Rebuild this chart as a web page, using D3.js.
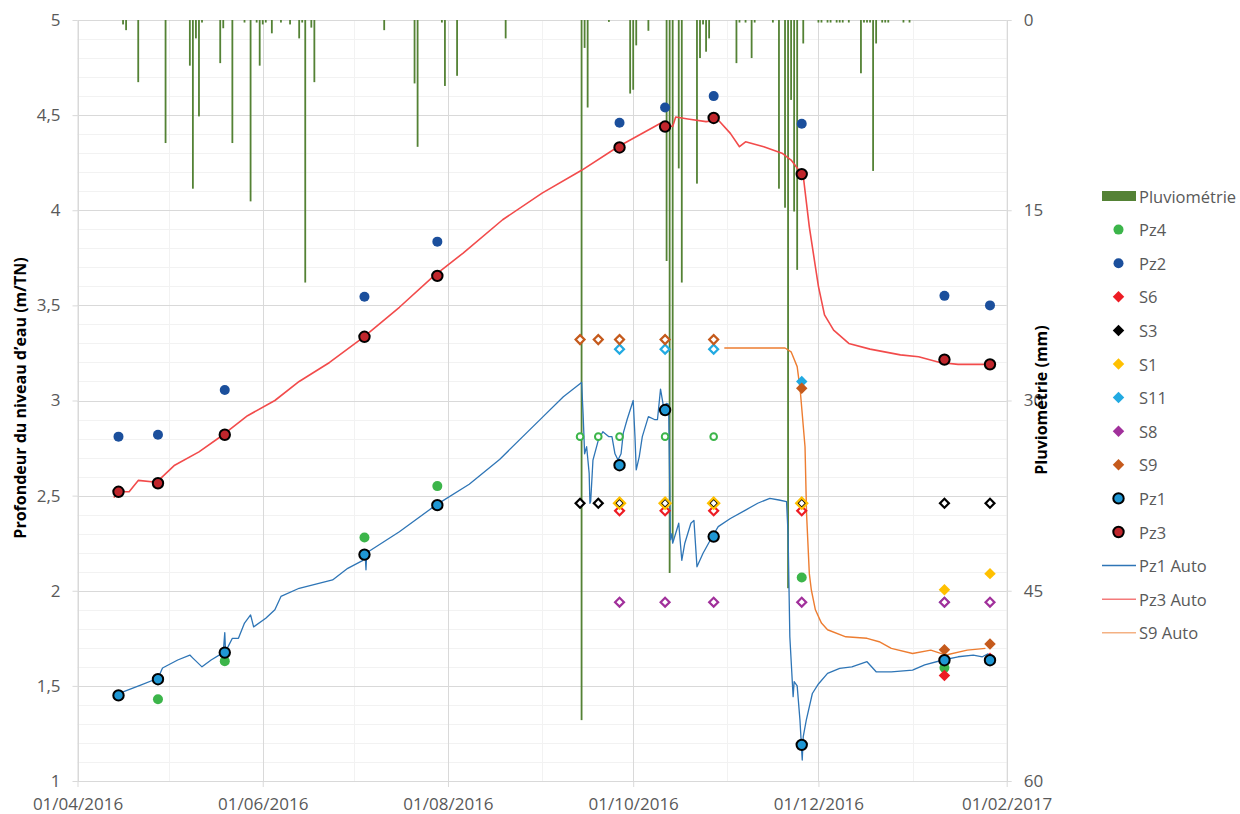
<!DOCTYPE html>
<html>
<head>
<meta charset="utf-8">
<script src="https://cdn.jsdelivr.net/npm/d3@7"></script>
<style>
body { margin: 0; background: #fff; }
svg text { font-family: "Open Sans", sans-serif; }
</style>
</head>
<body>
<div id="chart"></div>
<script>
// --- pluviometrie journaliere (mm) ---
const pluieDates = ["2016-04-16","2016-04-17","2016-04-21","2016-04-30","2016-05-08","2016-05-09","2016-05-10","2016-05-11","2016-05-12",
  "2016-05-18","2016-05-19","2016-05-22","2016-05-26","2016-05-28","2016-05-30","2016-05-31","2016-06-01","2016-06-02","2016-06-04",
  "2016-06-07","2016-06-10","2016-06-13","2016-06-14","2016-06-15","2016-06-17","2016-06-18","2016-07-11","2016-07-21","2016-07-22",
  "2016-07-30","2016-07-31","2016-08-04","2016-08-20","2016-09-14","2016-09-15","2016-09-16","2016-09-23","2016-09-30","2016-10-01",
  "2016-10-02","2016-10-06","2016-10-12","2016-10-13","2016-10-14","2016-10-16","2016-10-17","2016-10-22","2016-10-23","2016-10-24",
  "2016-10-25","2016-10-26","2016-11-04","2016-11-05","2016-11-07","2016-11-09","2016-11-10","2016-11-16","2016-11-18","2016-11-20",
  "2016-11-21","2016-11-22","2016-11-23","2016-11-24","2016-11-26","2016-12-01","2016-12-02","2016-12-04","2016-12-05","2016-12-07",
  "2016-12-08","2016-12-09","2016-12-11","2016-12-15","2016-12-16","2016-12-17","2016-12-18","2016-12-19","2016-12-20","2016-12-22",
  "2016-12-23","2016-12-24","2016-12-29","2016-12-31"];
const pluieMm = [0.35,0.8,4.9,9.7,3.6,13.3,1.45,7.6,0.2,
  3.4,0.65,9.7,0.2,14.3,0.2,3.6,0.35,0.2,1.05,
  0.2,0.35,1.45,0.2,20.7,0.6,4.9,0.8,5.0,10.0,
  0.2,5.2,4.4,1.45,55.2,2.2,6.9,0.15,5.8,5.5,
  2.0,0.85,19,43.6,41,11.7,20.7,12.9,3.0,0.35,
  2.5,1.45,3.4,0.2,0.2,3.0,0.2,0.2,13.3,14.8,
  44.8,6.3,15.1,19.7,1.85,0.2,0.2,0.2,0.2,0.2,
  0.2,0.2,0.2,4.2,0.2,0.2,0.2,11.9,1.85,0.2,
  0.2,0.2,0.2,0.2];

// --- campagnes de mesures manuelles (m/TN) ; "sec" = ouvrage a sec ---
const campagnes = ["2016-04-14","2016-04-27","2016-05-19","2016-07-04","2016-07-28","2016-09-13","2016-09-19",
  "2016-09-26","2016-10-11","2016-10-27","2016-11-25","2017-01-11","2017-01-26"];
const pz4 = [null,1.43,1.63,2.28,2.55,"sec","sec","sec","sec","sec",2.07,1.595,null];
const pz2 = [2.81,2.82,3.055,3.545,3.835,null,null,4.46,4.54,4.60,4.455,3.55,3.50];
const s6  = [null,null,null,null,null,null,null,"sec","sec","sec","sec",1.555,1.645];
const s3  = [null,null,null,null,null,"sec","sec","sec","sec","sec","sec","sec","sec"];
const s1  = [null,null,null,null,null,null,null,"sec","sec","sec","sec",2.005,2.09];
const s11 = [null,null,null,null,null,null,null,"sec","sec","sec",3.10,1.94,null];
const s8  = [null,null,null,null,null,null,null,"sec","sec","sec","sec","sec","sec"];
const s9  = [null,null,null,null,null,"sec","sec","sec","sec","sec",3.065,1.69,1.72];
const pz1 = [1.45,1.535,1.675,2.19,2.45,null,null,2.66,2.95,2.285,1.19,1.635,1.635];
const pz3 = [2.52,2.565,2.82,3.335,3.655,null,null,4.33,4.44,4.485,4.19,3.215,3.19];
// profondeur du fond des ouvrages (valeur tracee quand sec)
const fondPz4 = 2.81, fondS6 = 2.42, fondS3 = 2.46, fondS1 = 2.46, fondS11 = 3.27, fondS8 = 1.94, fondS9 = 3.32;

// --- enregistrements automatiques ---
const pz1AutoDates = ["2016-04-14T16:00","2016-04-16","2016-04-22","2016-04-27T12:00","2016-04-29","2016-05-04","2016-05-08","2016-05-09",
  "2016-05-12","2016-05-15","2016-05-19","2016-05-19T12:00","2016-05-19T18:00","2016-05-22","2016-05-24","2016-05-26","2016-05-28",
  "2016-05-29","2016-06-02","2016-06-05","2016-06-07","2016-06-13","2016-06-24","2016-06-29","2016-07-04","2016-07-04T18:00",
  "2016-07-05","2016-07-05T06:00","2016-07-16","2016-07-28","2016-08-08","2016-08-18","2016-09-01","2016-09-08","2016-09-14",
  "2016-09-14T12:00","2016-09-15","2016-09-15T16:00","2016-09-16T12:00","2016-09-16T18:00","2016-09-17","2016-09-17T18:00",
  "2016-09-19T12:00","2016-09-21","2016-09-23","2016-09-24","2016-09-25","2016-09-26","2016-09-27","2016-09-27T18:00","2016-09-29",
  "2016-10-01","2016-10-01T14:00","2016-10-02","2016-10-03","2016-10-04","2016-10-06","2016-10-08","2016-10-09","2016-10-10",
  "2016-10-11","2016-10-12","2016-10-12T16:00","2016-10-13T06:00","2016-10-13T18:00","2016-10-14","2016-10-16","2016-10-17",
  "2016-10-18","2016-10-20","2016-10-21","2016-10-22","2016-10-24","2016-10-27","2016-10-29","2016-11-02","2016-11-07",
  "2016-11-11","2016-11-15","2016-11-18","2016-11-20T12:00","2016-11-21","2016-11-21T14:00","2016-11-22T16:00","2016-11-23",
  "2016-11-24","2016-11-24T22:00","2016-11-25T16:00","2016-11-26","2016-11-27","2016-11-29","2016-12-01","2016-12-04","2016-12-08",
  "2016-12-12","2016-12-17","2016-12-20","2016-12-25","2017-01-01","2017-01-05","2017-01-11","2017-01-16","2017-01-21","2017-01-24",
  "2017-01-26"];
const pz1AutoVals = [1.45,1.469,1.505,1.54,1.594,1.636,1.662,1.646,
  1.60,1.636,1.675,1.78,1.68,1.75,1.75,1.83,1.873,
  1.81,1.855,1.90,1.97,2.013,2.057,2.118,2.16,2.19,
  2.11,2.20,2.31,2.45,2.56,2.69,2.91,3.02,3.095,
  2.93,2.72,2.757,2.617,2.46,2.47,2.687,
  2.79,2.836,2.81,2.81,2.72,2.687,2.72,2.83,2.90,
  3.00,2.81,2.635,2.705,2.81,2.915,2.90,2.90,3.06,
  2.967,2.985,2.98,2.267,2.30,2.25,2.355,2.16,
  2.25,2.355,2.37,2.126,2.197,2.284,2.337,2.38,2.424,
  2.46,2.486,2.477,2.468,2.30,1.758,1.443,1.522,
  1.50,1.32,1.11,1.233,1.32,1.46,1.51,1.566,1.592,
  1.60,1.627,1.574,1.574,1.583,1.61,1.636,1.653,1.662,1.653,
  1.67];

const pz3AutoDates = ["2016-04-13","2016-04-14","2016-04-18","2016-04-21","2016-04-27","2016-05-03","2016-05-11","2016-05-19",
  "2016-05-27","2016-06-05","2016-06-13","2016-06-23","2016-07-04","2016-07-16","2016-07-27","2016-08-06","2016-08-19",
  "2016-09-01","2016-09-14","2016-09-26","2016-10-10","2016-10-14","2016-10-15","2016-10-19","2016-10-25","2016-10-29",
  "2016-11-02","2016-11-05","2016-11-07","2016-11-13","2016-11-19","2016-11-22","2016-11-26","2016-11-28","2016-11-30",
  "2016-12-01","2016-12-03","2016-12-06","2016-12-11","2016-12-18","2016-12-28","2017-01-03","2017-01-10","2017-01-16",
  "2017-01-27"];
const pz3AutoVals = [2.49,2.52,2.52,2.58,2.57,2.66,2.73,2.82,
  2.92,3.00,3.10,3.20,3.33,3.49,3.65,3.775,3.95,
  4.09,4.21,4.334,4.457,4.44,4.49,4.48,4.466,4.474,
  4.404,4.334,4.36,4.334,4.30,4.264,4.18,3.913,3.703,
  3.60,3.45,3.37,3.30,3.27,3.24,3.23,3.20,3.19,
  3.19];

const s9AutoDates = ["2016-10-31","2016-11-20","2016-11-22","2016-11-24","2016-11-25","2016-11-26T14:00","2016-11-27T02:00",
  "2016-11-28","2016-11-28T16:00","2016-11-30","2016-12-02","2016-12-04","2016-12-10","2016-12-17","2016-12-21","2016-12-25",
  "2017-01-01","2017-01-07","2017-01-12","2017-01-19","2017-01-25"];
const s9AutoVals = [3.276,3.276,3.256,3.178,3.055,2.757,2.407,
  2.09,2.004,1.90,1.83,1.795,1.758,1.75,1.732,1.697,
  1.67,1.688,1.662,1.688,1.697];

const yTicks = [1, 1.5, 2, 2.5, 3, 3.5, 4, 4.5, 5];
const y2Ticks = [0, 15, 30, 45, 60];

// ---------------------------------------------------------------
var W = 1240, H = 814;
var pL = 77.5, pR = 1006.7, pT = 20, pB = 781;
var parse = d3.isoParse;
var t0 = new Date(2016, 3, 1), t1 = new Date(2017, 1, 1);

var svg = d3.select("#chart").append("svg")
  .attr("width", W).attr("height", H);

var x = d3.scaleTime().domain([t0, t1]).range([pL, pR]);
var y = d3.scaleLinear().domain([1, 5]).range([pB, pT]);
var y2 = d3.scaleLinear().domain([0, 60]).range([pT, pB]);

var months = d3.timeMonth.range(t0, d3.timeDay.offset(t1, 1));
var monthsMajor = months.filter(function(d, i) { return i % 2 === 0; });
var monthsMinor = months.filter(function(d, i) { return i % 2 === 1; });

// grille
var grid = svg.append("g");
grid.selectAll(".hmin").data(d3.range(10, 51).map(function(v) { return v / 10; }))
  .enter().append("line")
  .attr("x1", pL).attr("x2", pR)
  .attr("y1", function(d) { return Math.round(y(d)) + 0.5; })
  .attr("y2", function(d) { return Math.round(y(d)) + 0.5; })
  .attr("stroke", "#f2f2f2");
grid.selectAll(".vmin").data(monthsMinor).enter().append("line")
  .attr("x1", function(d) { return Math.round(x(d)) + 0.5; })
  .attr("x2", function(d) { return Math.round(x(d)) + 0.5; })
  .attr("y1", pT).attr("y2", pB)
  .attr("stroke", "#f2f2f2");
grid.selectAll(".hmaj").data(yTicks).enter().append("line")
  .attr("x1", pL).attr("x2", pR)
  .attr("y1", function(d) { return Math.round(y(d)) + 0.5; })
  .attr("y2", function(d) { return Math.round(y(d)) + 0.5; })
  .attr("stroke", "#d9d9d9");
grid.selectAll(".vmaj").data(monthsMajor).enter().append("line")
  .attr("x1", function(d) { return Math.round(x(d)) + 0.5; })
  .attr("x2", function(d) { return Math.round(x(d)) + 0.5; })
  .attr("y1", pT).attr("y2", pB)
  .attr("stroke", "#d9d9d9");

// axes
function styleAxis(g) {
  g.selectAll(".domain").attr("stroke", "#d9d9d9");
  g.selectAll(".tick line").attr("stroke", "#d9d9d9");
  g.selectAll(".tick text").attr("fill", "#595959").attr("font-size", "17px")
    .attr("font-family", "'Open Sans', sans-serif");
}
svg.append("g").attr("transform", "translate(" + pL + ",0)")
  .call(d3.axisLeft(y).tickValues(yTicks).tickSize(5).tickSizeOuter(0).tickPadding(12)
    .tickFormat(function(d) { return String(d).replace(".", ","); }))
  .call(styleAxis);
svg.append("g").attr("transform", "translate(" + pR + ",0)")
  .call(d3.axisRight(y2).tickValues(y2Ticks).tickSize(5).tickSizeOuter(0).tickPadding(12))
  .call(styleAxis);
svg.append("g").attr("transform", "translate(0," + pB + ")")
  .call(d3.axisBottom(x).tickValues(monthsMajor).tickSize(6).tickSizeOuter(0).tickPadding(11)
    .tickFormat(d3.timeFormat("%d/%m/%Y")))
  .call(styleAxis);

// titres des axes
svg.append("text")
  .attr("transform", "translate(20,398) rotate(-90)")
  .attr("text-anchor", "middle").attr("dominant-baseline", "central")
  .attr("font-size", "16px").attr("font-weight", "bold").attr("fill", "#000")
  .text("Profondeur du niveau d\u2019eau (m/TN)");
svg.append("text")
  .attr("transform", "translate(1041,400) rotate(-90)")
  .attr("text-anchor", "middle").attr("dominant-baseline", "central")
  .attr("font-size", "16px").attr("font-weight", "bold").attr("fill", "#000")
  .text("Pluviom\u00e9trie (mm)");

// pluie (axe secondaire, inverse)
var pluie = pluieDates.map(function(d, i) { return { date: parse(d), mm: pluieMm[i] }; });
svg.append("g").selectAll("rect").data(pluie).enter().append("rect")
  .attr("x", function(d) { return x(d.date) - 0.9; })
  .attr("y", pT)
  .attr("width", 1.8)
  .attr("height", function(d) { return y2(d.mm) - pT; })
  .attr("fill", "#548235");

// courbes auto
var line = d3.line()
  .x(function(d) { return x(d.date); })
  .y(function(d) { return y(d.v); });
function drawAuto(dates, vals, color, w) {
  var pts = dates.map(function(d, i) { return { date: parse(d), v: vals[i] }; });
  svg.append("path").datum(pts)
    .attr("d", line)
    .attr("fill", "none")
    .attr("stroke", color)
    .attr("stroke-width", w)
    .attr("stroke-linejoin", "round");
}
drawAuto(pz1AutoDates, pz1AutoVals, "#2e75b6", 1.3);
drawAuto(pz3AutoDates, pz3AutoVals, "#f24b4b", 1.6);
drawAuto(s9AutoDates, s9AutoVals, "#ed7d31", 1.4);

// mesures manuelles
var diamond = d3.symbol().type(d3.symbolSquare);
function marker(g, shape, color, sec, big) {
  if (shape === "circle") {
    g.append("circle")
      .attr("r", sec ? 3.3 : (big ? 5.2 : 5))
      .attr("fill", sec ? "#fff" : color)
      .attr("stroke", big ? "#000" : color)
      .attr("stroke-width", sec || big ? 2 : 0);
  } else {
    g.append("path")
      .attr("d", diamond.size(sec ? 40 : 66)())
      .attr("transform", "rotate(45)")
      .attr("fill", sec ? "#fff" : color)
      .attr("stroke", sec ? color : "none")
      .attr("stroke-width", 2.2);
  }
}
function drawSerie(vals, fond, shape, color, big, size) {
  var pts = [];
  campagnes.forEach(function(d, i) {
    if (vals[i] === null) return;
    var dt = parse(d + "T12:00");
    if (vals[i] === "sec") pts.push({ date: dt, v: fond, sec: true });
    else pts.push({ date: dt, v: vals[i], sec: false });
  });
  var g = svg.append("g");
  pts.forEach(function(p) {
    var m = g.append("g").attr("transform", "translate(" + x(p.date) + "," + y(p.v) + ")");
    marker(m, shape, color, p.sec, big);
    if (size && p.sec) m.select("path").attr("d", diamond.size(size)()).attr("fill", "none");
  });
}

var series = [
  { name: "Pz4", vals: pz4, fond: fondPz4, shape: "circle", color: "#3cb54a" },
  { name: "Pz2", vals: pz2, fond: null, shape: "circle", color: "#1b4f9c" },
  { name: "S6", vals: s6, fond: fondS6, shape: "diamond", color: "#ed1c24" },
  { name: "S3", vals: s3, fond: fondS3, shape: "diamond", color: "#000000" },
  { name: "S1", vals: s1, fond: fondS1, shape: "diamond", color: "#ffc000", size: 62 },
  { name: "S11", vals: s11, fond: fondS11, shape: "diamond", color: "#22aae2" },
  { name: "S8", vals: s8, fond: fondS8, shape: "diamond", color: "#a1309b" },
  { name: "S9", vals: s9, fond: fondS9, shape: "diamond", color: "#c55a1c" },
  { name: "Pz1", vals: pz1, fond: null, shape: "circle", color: "#1f97d4", big: true },
  { name: "Pz3", vals: pz3, fond: null, shape: "circle", color: "#c0262c", big: true }
];
series.forEach(function(s) { drawSerie(s.vals, s.fond, s.shape, s.color, s.big, s.size); });

// legende
var lx = 1118.5, ly0 = 196, step = 33.6;
var leg = svg.append("g");
leg.append("rect").attr("x", 1102).attr("y", ly0 - 5).attr("width", 34).attr("height", 10).attr("fill", "#548235");
leg.append("text").attr("x", 1139).attr("y", ly0).attr("dominant-baseline", "central")
  .attr("font-size", "16.5px").attr("fill", "#595959").text("Pluviom\u00e9trie");
series.forEach(function(s, i) {
  var yy = ly0 + step * (i + 1);
  var m = leg.append("g").attr("transform", "translate(" + lx + "," + yy + ")");
  marker(m, s.shape, s.color, false, s.big);
  leg.append("text").attr("x", 1139).attr("y", yy).attr("dominant-baseline", "central")
    .attr("font-size", "16.5px").attr("fill", "#595959").text(s.name);
});
var autos = [["Pz1 Auto", "#2e75b6"], ["Pz3 Auto", "#f47a7a"], ["S9 Auto", "#f4b183"]];
autos.forEach(function(a, i) {
  var yy = ly0 + step * (series.length + 1 + i);
  leg.append("line").attr("x1", 1102).attr("x2", 1136).attr("y1", yy).attr("y2", yy)
    .attr("stroke", a[1]).attr("stroke-width", 1.5);
  leg.append("text").attr("x", 1139).attr("y", yy).attr("dominant-baseline", "central")
    .attr("font-size", "16.5px").attr("fill", "#595959").text(a[0]);
});
</script>
</body>
</html>
